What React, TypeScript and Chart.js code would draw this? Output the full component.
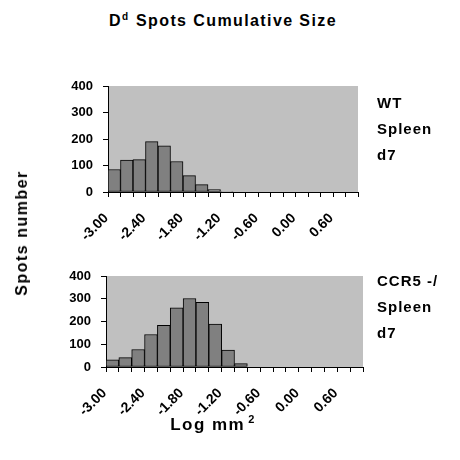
import React, { useEffect, useRef } from 'react';
import { Chart, registerables } from 'chart.js';

Chart.register(...registerables);

const categories = ['-3.00', '-2.80', '-2.60', '-2.40', '-2.20', '-2.00', '-1.80', '-1.60', '-1.40', '-1.20',
  '-1.00', '-0.80', '-0.60', '-0.40', '-0.20', '0.00', '0.20', '0.40', '0.60', '0.80'];
const wtValues = [85, 120, 122, 190, 174, 115, 62, 28, 9, 2, 0, 0, 0, 0, 0, 0, 0, 0, 0, 0];
const ccr5Values = [31, 41, 77, 143, 183, 260, 301, 284, 189, 74, 15, 0, 0, 0, 0, 0, 0, 0, 0, 0];
const yTickValues = [0, 100, 200, 300, 400];
const labelEvery = 3;

const FONT = "'Liberation Sans', Arial, sans-serif";

const bgPlugin = {
  id: 'plotBg',
  beforeDraw(chart: any) {
    const { ctx, chartArea } = chart;
    ctx.save();
    ctx.fillStyle = '#C0C0C0';
    ctx.fillRect(chartArea.left, chartArea.top, chartArea.right - chartArea.left, chartArea.bottom - chartArea.top);
    ctx.restore();
  },
};

type PanelProps = {
  values: number[];
  top: number;
  height: number;
  plotLeft: number;
  plotRight: number;
  plotTop: number;
  plotBottom: number;
};

function Panel({ values, top, height, plotLeft, plotRight, plotTop, plotBottom }: PanelProps) {
  const ref = useRef<HTMLCanvasElement | null>(null);
  useEffect(() => {
    if (!ref.current) return;
    const xAxisH = top + height - plotBottom;
    const chart = new Chart(ref.current, {
      type: 'bar',
      data: {
        labels: categories,
        datasets: [{
          data: values,
          backgroundColor: '#808080',
          borderColor: '#000000',
          borderWidth: 1,
          borderSkipped: false,
          barPercentage: 1,
          categoryPercentage: 1,
        }],
      },
      options: {
        animation: false,
        responsive: false,
        maintainAspectRatio: false,
        layout: { padding: { top: plotTop - top, right: 460 - plotRight, left: 0, bottom: 0 } },
        plugins: { legend: { display: false }, tooltip: { enabled: false }, title: { display: false } },
        scales: {
          x: {
            type: 'category',
            offset: true,
            grid: { display: true, drawOnChartArea: false, drawTicks: true, tickLength: 5, color: '#000', offset: true },
            border: { display: true, color: '#000', width: 1 },
            ticks: {
              autoSkip: false,
              maxRotation: 45,
              minRotation: 45,
              padding: 13,
              labelOffset: -8,
              color: '#000',
              font: { family: FONT, size: 14, weight: 'bold' },
              callback: (_v: any, i: number) => (i % labelEvery === 0 ? categories[i] : ''),
            },
            afterFit: (s: any) => { s.height = xAxisH; },
          },
          y: {
            min: yTickValues[0],
            max: yTickValues[yTickValues.length - 1],
            afterBuildTicks: (s: any) => { s.ticks = yTickValues.map((v) => ({ value: v })); },
            grid: { display: true, drawOnChartArea: false, drawTicks: true, tickLength: 5, color: '#000' },
            border: { display: true, color: '#000', width: 1 },
            ticks: {
              padding: 10,
              color: '#000',
              font: { family: FONT, size: 13, weight: 'bold' },
            },
            afterFit: (s: any) => { s.width = plotLeft; },
          },
        },
      },
      plugins: [bgPlugin],
    });
    return () => chart.destroy();
  }, []);
  return (
    <canvas
      ref={ref}
      width={460}
      height={height}
      style={{ position: 'absolute', left: 0, top, width: 460, height }}
    />
  );
}

const textBase: React.CSSProperties = {
  position: 'absolute',
  fontFamily: FONT,
  fontWeight: 'bold',
  color: '#000',
  whiteSpace: 'nowrap',
  letterSpacing: '1px',
};

export default function App() {
  return (
    <div style={{ position: 'fixed', left: 0, top: 0, width: 460, height: 460, background: '#fff', overflow: 'hidden' }}>
      <Panel values={wtValues} top={60} height={200} plotLeft={108} plotRight={358} plotTop={86} plotBottom={192} />
      <Panel values={ccr5Values} top={250} height={200} plotLeft={106} plotRight={363} plotTop={276} plotBottom={367} />
      <div style={{ ...textBase, fontSize: 16, letterSpacing: '1.4px', left: 223, top: 11, transform: 'translateX(-50%)' }}>
        D<sup style={{ fontSize: 10, letterSpacing: 0, marginRight: 2 }}>d</sup> Spots Cumulative Size
      </div>
      <div style={{ ...textBase, fontSize: 16, letterSpacing: '1.5px', left: 22, top: 233, transform: 'translate(-50%, -50%) rotate(-90deg)' }}>
        Spots number
      </div>
      <div style={{ ...textBase, fontSize: 17, letterSpacing: '1.5px', left: 213, top: 424, transform: 'translate(-50%, -50%)' }}>
        Log mm<sup style={{ fontSize: 11, marginLeft: 3 }}>2</sup>
      </div>
      <div style={{ ...textBase, fontSize: 15, left: 377, top: 90, lineHeight: '26px' }}>
        WT<br />Spleen<br />d7
      </div>
      <div style={{ ...textBase, fontSize: 15, left: 377, top: 268, lineHeight: '26px' }}>
        CCR5 -/<br />Spleen<br />d7
      </div>
    </div>
  );
}
